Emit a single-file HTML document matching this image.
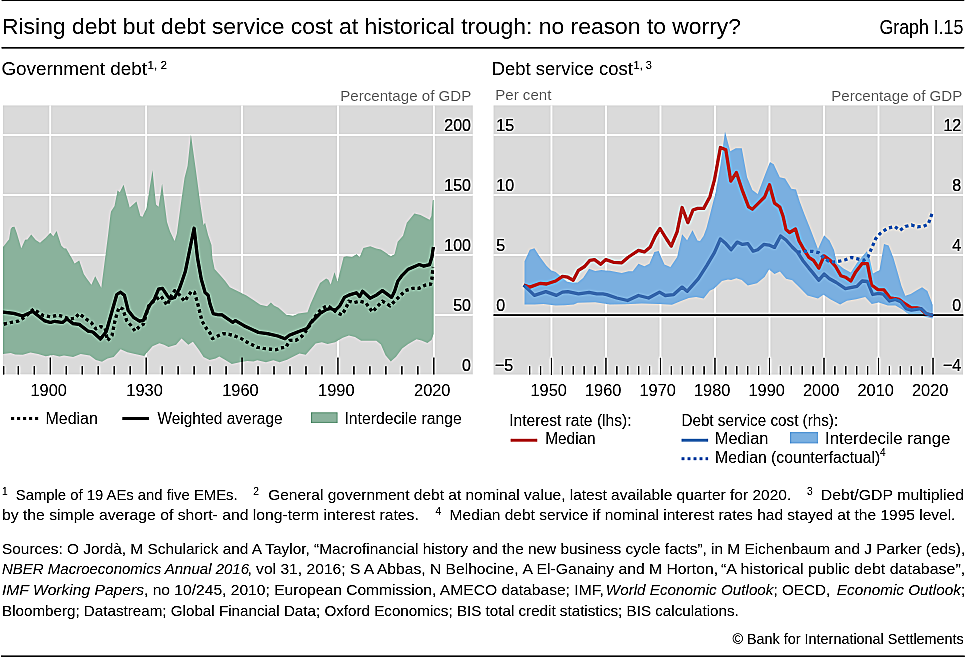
<!DOCTYPE html>
<html><head><meta charset="utf-8"><title>Graph I.15</title>
<style>html,body{margin:0;padding:0;background:#fff;}body{width:965px;height:657px;overflow:hidden;}svg{display:block;will-change:transform;}</style>
</head><body>
<svg width="965" height="657" viewBox="0 0 965 657" font-family="'Liberation Sans', sans-serif">
<rect width="965" height="657" fill="#fff"/>
<defs><filter id="sh" x="0" y="0" width="965" height="657" filterUnits="userSpaceOnUse" color-interpolation-filters="sRGB"><feGaussianBlur in="SourceGraphic" stdDeviation="1.0" result="b"/><feComposite in="SourceGraphic" in2="b" operator="arithmetic" k1="0" k2="2" k3="-1" k4="0"/></filter></defs>
<g filter="url(#sh)">
<rect width="965" height="657" fill="#fff"/>
<rect x="1.5" y="0" width="963" height="1.2" fill="#000"/>
<rect x="1.5" y="47" width="963" height="1.6" fill="#1a1a1a"/>
<rect x="1" y="655.4" width="964" height="1.6" fill="#1a1a1a"/>
<text x="2" y="34.2" font-size="22" textLength="739" lengthAdjust="spacingAndGlyphs" fill="#000">Rising debt but debt service cost at historical trough: no reason to worry?</text>
<text x="879.4" y="34.2" font-size="19.5" textLength="84" lengthAdjust="spacingAndGlyphs" fill="#000">Graph I.15</text>
<text x="1.4" y="75.2" font-size="18" textLength="145.6" lengthAdjust="spacingAndGlyphs" fill="#000">Government debt</text>
<text x="147.6" y="68.7" font-size="11" textLength="19.4" lengthAdjust="spacingAndGlyphs" fill="#000">1, 2</text>
<text x="491.8" y="75.2" font-size="18" textLength="141" lengthAdjust="spacingAndGlyphs" fill="#000">Debt service cost</text>
<text x="633.6" y="68.7" font-size="11" textLength="18.4" lengthAdjust="spacingAndGlyphs" fill="#000">1, 3</text>
<text x="340.2" y="100.5" font-size="15" textLength="131.2" lengthAdjust="spacingAndGlyphs" fill="#858585">Percentage of GDP</text>
<text x="495.2" y="100.4" font-size="15" textLength="56.2" lengthAdjust="spacingAndGlyphs" fill="#858585">Per cent</text>
<text x="831.2" y="100.5" font-size="15" textLength="131.2" lengthAdjust="spacingAndGlyphs" fill="#858585">Percentage of GDP</text>
<rect x="2.8" y="105.4" width="470" height="269" fill="#dadada"/>
<line x1="50.25" y1="105.4" x2="50.25" y2="374.4" stroke="#ffffff" stroke-width="1.7"/>
<line x1="146.15" y1="105.4" x2="146.15" y2="374.4" stroke="#ffffff" stroke-width="1.7"/>
<line x1="242.05" y1="105.4" x2="242.05" y2="374.4" stroke="#ffffff" stroke-width="1.7"/>
<line x1="337.95" y1="105.4" x2="337.95" y2="374.4" stroke="#ffffff" stroke-width="1.7"/>
<line x1="433.85" y1="105.4" x2="433.85" y2="374.4" stroke="#ffffff" stroke-width="1.7"/>
<line x1="2.8" y1="314.88" x2="472.8" y2="314.88" stroke="#ffffff" stroke-width="1.7"/>
<line x1="2.8" y1="254.92" x2="472.8" y2="254.92" stroke="#ffffff" stroke-width="1.7"/>
<line x1="2.8" y1="194.96" x2="472.8" y2="194.96" stroke="#ffffff" stroke-width="1.7"/>
<line x1="2.8" y1="134.99" x2="472.8" y2="134.99" stroke="#ffffff" stroke-width="1.7"/>
<polygon points="3,247 9.1,239.2 10.7,229.1 12.2,227 14.5,226.8 16.8,233.1 21.3,248.2 25.1,239.8 27.4,239.4 31.2,234.4 35.8,239.9 40,242.8 45.7,237.7 50.3,232.8 53.3,236.3 56.6,231.1 61.3,245.5 64,248.2 66.2,248.5 71.6,257.8 74.6,263.4 79.2,260.4 83.8,274.1 86.8,278.6 91.4,284.7 95.2,276.3 101.3,287.8 104.6,262 108.2,234 110.4,215 111,211.4 114.5,206 117.5,190.4 119.8,192.3 123.6,184.7 129.7,207.6 136.5,201.5 140.4,215.9 142.6,216.7 146.4,208.3 152.5,170.3 156,204.5 158.6,206.8 162.1,183.7 167,222 170,231.2 174.6,241.1 176.9,233.5 180.7,205 184.5,177.9 187.6,165.7 190.9,134.5 195.9,170.3 200.5,205 203.5,225.1 205.1,222.8 208.1,235 211.5,245 212.5,258.5 214.6,268.9 220.7,275.8 225.2,281.1 229.8,287.2 237.4,291 246.5,295.6 252.6,299.4 260.3,304.7 267.1,306.2 270.9,302.4 274,305.5 278.5,307.8 286.1,314.6 293,315.7 298.3,313.5 307.5,312.3 310.5,304 316.6,290.3 320,283 326.1,278.5 328.4,279.8 330.7,284.4 334.5,272.2 337.5,281.4 343.6,257 346.6,256.2 352,257 356.5,254 359.6,257 363.4,247.9 370.3,246.3 376.3,248.6 380.9,249.4 385.5,252.4 390.8,256.2 394.6,254 397.7,241.8 403,235.7 406.8,222.7 414.4,213.6 420.5,215.1 429.6,219.7 431.4,216 432.7,200.5 433.7,199.5 433.7,334 431.5,340 427.4,343 421.5,340.5 416.5,339.3 408.3,343.9 402.2,348.4 396.1,356.8 390.8,361.4 385.5,355.3 380.9,344.6 376.3,340.8 368.7,340.8 361.1,340.8 355,337 348.9,335.5 342.8,337.8 335.2,342.3 327.6,343.9 321.9,342.3 315.7,343.5 305.7,354.7 299.5,353.5 287.1,359.7 279.6,362.2 273.4,360.3 266,362.2 257.3,360.3 253.5,361.6 247.3,360.9 239.8,362.2 231.8,364 224.9,359.7 219.3,356.6 215.7,358.4 209.6,359.9 203.5,356.9 199,350 192.9,341.7 188.3,344.7 181.5,338.6 176.1,344.7 168.5,347 164,344.7 159.4,343.2 152.5,346.2 144.2,356.1 135,353.9 127.4,352.3 120.6,349.3 113.7,356.9 107.6,358.4 102,361.7 95.9,360.1 89.8,355.6 80.7,354.1 73.1,357.1 64,355.6 59.4,356.6 53.3,355.1 45.7,356.3 38.1,354.1 30.5,352.5 22.8,354.8 15.2,354.5 10.7,353 3,354.1" fill="#8ab29c"/>
<path d="M3.8,324.1 L10.7,322.5 L18.3,321 L25.1,316.8 L33.5,309.1 L42.6,315.2 L50.3,316.8 L57.9,315.2 L64,316.8 L69.3,319 L74.6,318.3 L79.2,313.7 L85.3,318.3 L91.4,322.8 L95.9,328.9 L100.5,326.6 L105.1,328.2 L107.5,340.5 L112,335.5 L115.2,319.6 L119,307.4 L122.8,308.9 L126.6,320.4 L131.2,325.7 L135,331 L139.6,326.4 L143.4,324.2 L148.7,305.9 L152.5,302.1 L160.9,296 L167,305.1 L171.6,295.2 L174.6,290.7 L179.2,294.5 L184.5,301.3 L187.6,296.8 L191.4,291.4 L194.4,292.2 L197.5,302.8 L202,321.1 L206.6,328.7 L210,333 L212.5,338.5 L217.5,336.1 L223,333.6 L228.7,334.2 L234.9,336.1 L241.1,338.5 L247.3,342.3 L257.3,347.3 L263.5,348.5 L269.7,349.1 L275.9,349.7 L280.9,347.9 L285.9,347.3 L289.6,340.4 L295.8,340.4 L301.4,336.7 L304.5,333 L310,325 L314,318 L318.2,312.4 L322.5,308.1 L327.6,305.8 L331,308 L336.8,312.6 L342.1,314.9 L346.6,306.5 L348.9,301.2 L353.5,302.7 L359.6,301.2 L365.7,302.7 L372.5,311.9 L377.9,305.8 L382.4,301.2 L390,305.8 L397.7,298.2 L405.3,290.6 L412.9,288.3 L419,288.3 L425.1,285.2 L430.4,284.5 L431.9,279.1 L432.4,273 L433,267" fill="none" stroke="#000" stroke-width="3.2" stroke-dasharray="3.2 3" stroke-linejoin="round"/>
<path d="M3,312.2 L13.7,313.4 L22.8,316 L32.7,311.4 L44.2,320.6 L50.3,322.5 L54.8,321.3 L62.4,322.5 L67,319 L73.1,323.6 L79.2,324.4 L88.3,331.2 L92.9,332 L100.5,339 L106.3,331.5 L111.4,313.5 L116.8,294.5 L120.6,292.2 L124.4,295.2 L128.2,310.5 L133.5,317.3 L139.6,321.1 L143.4,320.4 L147.2,310.5 L150.3,304.4 L154.1,299.8 L158.6,289.1 L162.4,288.4 L167,295.2 L170,299 L174.6,297.5 L179.2,289.1 L182.2,280.7 L185.3,271.6 L194.1,228.2 L197.5,257.9 L201.3,279.2 L205.1,292.5 L208.1,295.2 L210,304 L213.3,313.7 L217.6,314.6 L222,314.9 L232.6,322.3 L235.4,320.6 L244,325.7 L258.6,332.5 L267.5,333.6 L277.8,336 L285,338.7 L289.4,335.3 L298.9,331.5 L307,328.5 L310.5,323 L314.5,319 L320,313.5 L326.5,309.5 L330.7,308.5 L335.2,310.4 L339.8,305.8 L344.4,297.4 L348.9,295.1 L356.5,292.8 L359.6,296.6 L362.6,291.3 L370.3,298.2 L376.3,295.1 L382.4,290.6 L391.6,297.4 L394.6,291.3 L397.7,281.4 L402.2,275.3 L408.3,269.2 L419,264.6 L423.5,266.1 L429.6,264.6 L431.9,257 L433.4,247.1" fill="none" stroke="#000" stroke-width="3.2" stroke-linejoin="round"/>
<line x1="3.70" y1="366.2" x2="3.70" y2="374.4" stroke="#000" stroke-width="1.2"/>
<line x1="18.28" y1="366.2" x2="18.28" y2="374.4" stroke="#000" stroke-width="1.2"/>
<line x1="34.27" y1="366.2" x2="34.27" y2="374.4" stroke="#000" stroke-width="1.2"/>
<line x1="50.25" y1="357.6" x2="50.25" y2="374.4" stroke="#000" stroke-width="1.2"/>
<line x1="66.23" y1="366.2" x2="66.23" y2="374.4" stroke="#000" stroke-width="1.2"/>
<line x1="82.22" y1="366.2" x2="82.22" y2="374.4" stroke="#000" stroke-width="1.2"/>
<line x1="98.20" y1="366.2" x2="98.20" y2="374.4" stroke="#000" stroke-width="1.2"/>
<line x1="114.18" y1="366.2" x2="114.18" y2="374.4" stroke="#000" stroke-width="1.2"/>
<line x1="130.17" y1="366.2" x2="130.17" y2="374.4" stroke="#000" stroke-width="1.2"/>
<line x1="146.15" y1="357.6" x2="146.15" y2="374.4" stroke="#000" stroke-width="1.2"/>
<line x1="162.13" y1="366.2" x2="162.13" y2="374.4" stroke="#000" stroke-width="1.2"/>
<line x1="178.12" y1="366.2" x2="178.12" y2="374.4" stroke="#000" stroke-width="1.2"/>
<line x1="194.10" y1="366.2" x2="194.10" y2="374.4" stroke="#000" stroke-width="1.2"/>
<line x1="210.08" y1="366.2" x2="210.08" y2="374.4" stroke="#000" stroke-width="1.2"/>
<line x1="226.07" y1="366.2" x2="226.07" y2="374.4" stroke="#000" stroke-width="1.2"/>
<line x1="242.05" y1="357.6" x2="242.05" y2="374.4" stroke="#000" stroke-width="1.2"/>
<line x1="258.04" y1="366.2" x2="258.04" y2="374.4" stroke="#000" stroke-width="1.2"/>
<line x1="274.02" y1="366.2" x2="274.02" y2="374.4" stroke="#000" stroke-width="1.2"/>
<line x1="290.00" y1="366.2" x2="290.00" y2="374.4" stroke="#000" stroke-width="1.2"/>
<line x1="305.99" y1="366.2" x2="305.99" y2="374.4" stroke="#000" stroke-width="1.2"/>
<line x1="321.97" y1="366.2" x2="321.97" y2="374.4" stroke="#000" stroke-width="1.2"/>
<line x1="337.95" y1="357.6" x2="337.95" y2="374.4" stroke="#000" stroke-width="1.2"/>
<line x1="353.94" y1="366.2" x2="353.94" y2="374.4" stroke="#000" stroke-width="1.2"/>
<line x1="369.92" y1="366.2" x2="369.92" y2="374.4" stroke="#000" stroke-width="1.2"/>
<line x1="385.90" y1="366.2" x2="385.90" y2="374.4" stroke="#000" stroke-width="1.2"/>
<line x1="401.89" y1="366.2" x2="401.89" y2="374.4" stroke="#000" stroke-width="1.2"/>
<line x1="417.87" y1="366.2" x2="417.87" y2="374.4" stroke="#000" stroke-width="1.2"/>
<line x1="433.85" y1="357.6" x2="433.85" y2="374.4" stroke="#000" stroke-width="1.2"/>
<text x="471" y="370.85" font-size="16.8" textLength="8.898" lengthAdjust="spacingAndGlyphs" text-anchor="end" fill="#000" stroke="#000" stroke-width="0.15">0</text>
<text x="471" y="310.885" font-size="16.8" textLength="17.796" lengthAdjust="spacingAndGlyphs" text-anchor="end" fill="#000" stroke="#000" stroke-width="0.15">50</text>
<text x="471" y="250.92" font-size="16.8" textLength="26.694" lengthAdjust="spacingAndGlyphs" text-anchor="end" fill="#000" stroke="#000" stroke-width="0.15">100</text>
<text x="471" y="190.955" font-size="16.8" textLength="26.694" lengthAdjust="spacingAndGlyphs" text-anchor="end" fill="#000" stroke="#000" stroke-width="0.15">150</text>
<text x="471" y="130.99" font-size="16.8" textLength="26.694" lengthAdjust="spacingAndGlyphs" text-anchor="end" fill="#000" stroke="#000" stroke-width="0.15">200</text>
<text x="48.65" y="395.5" font-size="16.4" text-anchor="middle" fill="#000">1900</text>
<text x="144.551" y="395.5" font-size="16.4" text-anchor="middle" fill="#000">1930</text>
<text x="240.452" y="395.5" font-size="16.4" text-anchor="middle" fill="#000">1960</text>
<text x="336.353" y="395.5" font-size="16.4" text-anchor="middle" fill="#000">1990</text>
<text x="432.254" y="395.5" font-size="16.4" text-anchor="middle" fill="#000">2020</text>
<line x1="11.2" y1="418.6" x2="38.6" y2="418.6" stroke="#000" stroke-width="3" stroke-dasharray="3 3"/>
<text x="45.5" y="423.5" font-size="16" textLength="52.4" lengthAdjust="spacingAndGlyphs" fill="#000">Median</text>
<line x1="122.4" y1="418.6" x2="148.8" y2="418.6" stroke="#000" stroke-width="3"/>
<text x="157.4" y="423.5" font-size="16" textLength="125.2" lengthAdjust="spacingAndGlyphs" fill="#000">Weighted average</text>
<rect x="311.5" y="412.8" width="25.6" height="9.8" fill="#8ab29c" stroke="#76a38a" stroke-width="1"/>
<text x="344.4" y="423.5" font-size="16" textLength="117.4" lengthAdjust="spacingAndGlyphs" fill="#000">Interdecile range</text>
<rect x="493.5" y="105.4" width="469.9" height="269.2" fill="#dadada"/>
<line x1="551.45" y1="105.4" x2="551.45" y2="374.6" stroke="#ffffff" stroke-width="1.7"/>
<line x1="605.96" y1="105.4" x2="605.96" y2="374.6" stroke="#ffffff" stroke-width="1.7"/>
<line x1="660.47" y1="105.4" x2="660.47" y2="374.6" stroke="#ffffff" stroke-width="1.7"/>
<line x1="714.98" y1="105.4" x2="714.98" y2="374.6" stroke="#ffffff" stroke-width="1.7"/>
<line x1="769.49" y1="105.4" x2="769.49" y2="374.6" stroke="#ffffff" stroke-width="1.7"/>
<line x1="824.00" y1="105.4" x2="824.00" y2="374.6" stroke="#ffffff" stroke-width="1.7"/>
<line x1="878.51" y1="105.4" x2="878.51" y2="374.6" stroke="#ffffff" stroke-width="1.7"/>
<line x1="933.02" y1="105.4" x2="933.02" y2="374.6" stroke="#ffffff" stroke-width="1.7"/>
<line x1="493.5" y1="255.10" x2="963.4" y2="255.10" stroke="#ffffff" stroke-width="1.7"/>
<line x1="493.5" y1="195.05" x2="963.4" y2="195.05" stroke="#ffffff" stroke-width="1.7"/>
<line x1="493.5" y1="135.00" x2="963.4" y2="135.00" stroke="#ffffff" stroke-width="1.7"/>
<polygon points="524.5,261.2 529.8,249.8 534.4,248.3 540.4,257.4 546.5,265.8 551.1,270.3 555.7,271.9 561.8,277.2 567.1,281.8 572.4,282.5 577.7,282.5 583.1,277.9 589.1,268.8 595.2,271.1 601.3,269.9 606,270.5 610,270.7 621.8,272.9 628.5,271.2 632.7,271.2 638.5,263.7 644.4,266.2 649.4,263.7 654.4,251.9 658.6,251.1 664.5,264.5 670.4,267 677.1,257 682.1,234.3 687.1,240.2 692.5,230.2 697.5,240.5 700,241 703.5,236 706.5,228 709.8,215.2 715.9,190.9 720.4,165 725,131.5 730.3,151.3 735.7,148.3 741.8,148.3 747.1,177.2 752.4,190.1 757.7,193.9 764.6,175.7 769.9,162 773.7,164.2 779.8,177.2 785.1,178.5 791.4,188.8 796,189.6 799.8,201.8 804.4,213.9 810.4,229.1 818,249 824.1,235.2 829.5,240.5 834,250 837.1,263.5 843.9,268.8 850.8,272.6 857.6,262 866.8,251.3 869.8,258.9 873,273.5 879.5,270 884,244 888.6,245.6 893.2,257 897.7,272.5 901.5,286 905.3,295.7 910.7,294.1 916.8,290.3 922.1,287.3 927.4,291.1 932.7,304.8 932.7,318.5 932.7,318.5 925.9,317 918.3,314.7 909.1,314.7 902.3,309.4 895.4,305.6 887.8,305.6 878.7,302.5 871.8,304 865.2,297 856.1,299.3 847,300.8 840.1,304.6 830.2,299.3 823.4,294.7 818,298.5 807.4,295.4 799.8,287.8 792.2,280.2 786.1,278.7 779.9,271.5 774.5,274 769.1,269.5 764.6,277.1 757,283.2 747.8,285.4 741.8,280.1 736.4,278.3 731.1,280.1 728,279.4 722,280.9 714.4,288.5 709.8,290.8 703.7,298.4 696.1,296.9 688.8,298 680.4,301.3 672,304.7 658.6,303.9 641.9,303.5 625.1,304.2 610,304.6 595.2,302.3 586.1,302.6 577.7,302.8 573.9,304.6 564.8,305.3 555.7,305.6 543.5,304.1 534.4,304.6 524.5,304.6" fill="#7aafe0"/>
<line x1="493.5" y1="315.15" x2="963.4" y2="315.15" stroke="#1a1a1a" stroke-width="1.8"/>
<path d="M523.7,285.1 L529.8,287.1 L540.4,283.3 L546.5,284 L555.7,281 L562.5,276.4 L567.8,277.2 L573.2,280.2 L578.5,270.3 L584.6,266.5 L589.9,260.4 L594.5,259.7 L600.6,264.2 L605.9,259.6 L613.4,262.3 L621.8,262.8 L628.5,257 L638.5,250.3 L644.4,251.9 L650.3,246.9 L655.3,236 L660,228.5 L666.2,238.5 L671.2,246.1 L677.1,231.8 L682.1,207.5 L687.9,222.6 L693,210 L697.6,208.4 L703.7,208.4 L709.8,197 L714.4,180.2 L720.4,147.5 L725.8,149.8 L730.8,181 L736.4,172.6 L742.5,190.9 L748.6,206.9 L752.4,209.1 L758.5,203.1 L764.6,197 L769.5,184.8 L774.5,203.1 L779.8,207 L783,216 L786,229.5 L789.5,232.5 L795.5,229 L799,240.7 L803.6,249 L808.9,257.4 L813.5,260.4 L818.8,268.1 L824.1,255.9 L830.2,260.4 L835.6,266.5 L840.9,275.7 L845.4,277.2 L850.8,281 L855.3,272.6 L862.2,263.5 L867.4,263.6 L871.5,285 L877.9,289.6 L884,289.9 L890.1,297.9 L899.2,299.5 L905.3,304 L911.4,307.8 L916.8,307.8 L920.6,308.6 L925.9,313.9 L932.7,315.4" fill="none" stroke="#b42520" stroke-width="3.3" stroke-linejoin="round"/>
<path d="M523.7,285.1 L529,290.1 L534.4,295.4 L545.8,291.6 L556.4,295.4 L562.5,292.1 L567.8,291.6 L578.5,293.9 L589.1,292.4 L596.8,293.9 L602.8,293.9 L606.7,294.6 L616.8,298 L627.6,300.5 L638.5,295.5 L648.6,298 L659.5,292.1 L665.3,295.5 L673.7,294.6 L682.1,287.1 L687.1,291.3 L693.8,283.8 L698.4,278.6 L706.7,265.7 L714.4,252.7 L720.4,239 L725.8,243.6 L731.1,249.7 L737.2,242.1 L742.5,244.4 L747.8,243.6 L753.2,251.2 L757.7,249.7 L763.8,244.4 L769.1,245.1 L774.5,247.4 L780.6,236 L786,240 L792.2,247 L797.5,252.1 L802.8,260.4 L808.9,268.1 L812.7,272.6 L818.8,280.2 L824.1,274.1 L829.5,278.7 L836.3,282.5 L845.4,288.6 L853.1,287.1 L856.9,286.3 L862.2,281 L867.4,281.5 L872.7,294.5 L878.7,293.4 L883.3,294.1 L889.4,301 L895.4,299.5 L900.8,301.8 L906.1,308.6 L911.4,310.1 L921.3,308.6 L926.6,313.9 L933.5,315.4" fill="none" stroke="#3a6cb0" stroke-width="3.3" stroke-linejoin="round"/>
<path d="M797.5,252.1 L805.1,251.3 L812.7,251.3 L818.8,252.8 L824.1,258.2 L828.7,261.2 L833.3,262 L839.4,261.2 L845.4,259.7 L851.5,257.4 L857.6,258.9 L863.7,260.4 L868,257 L871.1,249.4 L875.7,238.7 L880.2,233.4 L887.8,228.1 L894.7,226.5 L900,230.3 L905.3,226.5 L911.4,225 L917.5,226.8 L923.6,226.2 L928.2,224.2 L930.4,218.2 L932.7,212.1" fill="none" stroke="#2f64b3" stroke-width="3.2" stroke-dasharray="3.3 3"/>
<line x1="529.65" y1="366.2" x2="529.65" y2="374.6" stroke="#000" stroke-width="1.2"/>
<line x1="540.55" y1="366.2" x2="540.55" y2="374.6" stroke="#000" stroke-width="1.2"/>
<line x1="551.45" y1="357.8" x2="551.45" y2="374.6" stroke="#000" stroke-width="1.2"/>
<line x1="562.35" y1="366.2" x2="562.35" y2="374.6" stroke="#000" stroke-width="1.2"/>
<line x1="573.25" y1="366.2" x2="573.25" y2="374.6" stroke="#000" stroke-width="1.2"/>
<line x1="584.16" y1="366.2" x2="584.16" y2="374.6" stroke="#000" stroke-width="1.2"/>
<line x1="595.06" y1="366.2" x2="595.06" y2="374.6" stroke="#000" stroke-width="1.2"/>
<line x1="605.96" y1="357.8" x2="605.96" y2="374.6" stroke="#000" stroke-width="1.2"/>
<line x1="616.86" y1="366.2" x2="616.86" y2="374.6" stroke="#000" stroke-width="1.2"/>
<line x1="627.76" y1="366.2" x2="627.76" y2="374.6" stroke="#000" stroke-width="1.2"/>
<line x1="638.67" y1="366.2" x2="638.67" y2="374.6" stroke="#000" stroke-width="1.2"/>
<line x1="649.57" y1="366.2" x2="649.57" y2="374.6" stroke="#000" stroke-width="1.2"/>
<line x1="660.47" y1="357.8" x2="660.47" y2="374.6" stroke="#000" stroke-width="1.2"/>
<line x1="671.37" y1="366.2" x2="671.37" y2="374.6" stroke="#000" stroke-width="1.2"/>
<line x1="682.27" y1="366.2" x2="682.27" y2="374.6" stroke="#000" stroke-width="1.2"/>
<line x1="693.18" y1="366.2" x2="693.18" y2="374.6" stroke="#000" stroke-width="1.2"/>
<line x1="704.08" y1="366.2" x2="704.08" y2="374.6" stroke="#000" stroke-width="1.2"/>
<line x1="714.98" y1="357.8" x2="714.98" y2="374.6" stroke="#000" stroke-width="1.2"/>
<line x1="725.88" y1="366.2" x2="725.88" y2="374.6" stroke="#000" stroke-width="1.2"/>
<line x1="736.78" y1="366.2" x2="736.78" y2="374.6" stroke="#000" stroke-width="1.2"/>
<line x1="747.69" y1="366.2" x2="747.69" y2="374.6" stroke="#000" stroke-width="1.2"/>
<line x1="758.59" y1="366.2" x2="758.59" y2="374.6" stroke="#000" stroke-width="1.2"/>
<line x1="769.49" y1="357.8" x2="769.49" y2="374.6" stroke="#000" stroke-width="1.2"/>
<line x1="780.39" y1="366.2" x2="780.39" y2="374.6" stroke="#000" stroke-width="1.2"/>
<line x1="791.29" y1="366.2" x2="791.29" y2="374.6" stroke="#000" stroke-width="1.2"/>
<line x1="802.20" y1="366.2" x2="802.20" y2="374.6" stroke="#000" stroke-width="1.2"/>
<line x1="813.10" y1="366.2" x2="813.10" y2="374.6" stroke="#000" stroke-width="1.2"/>
<line x1="824.00" y1="357.8" x2="824.00" y2="374.6" stroke="#000" stroke-width="1.2"/>
<line x1="834.90" y1="366.2" x2="834.90" y2="374.6" stroke="#000" stroke-width="1.2"/>
<line x1="845.80" y1="366.2" x2="845.80" y2="374.6" stroke="#000" stroke-width="1.2"/>
<line x1="856.71" y1="366.2" x2="856.71" y2="374.6" stroke="#000" stroke-width="1.2"/>
<line x1="867.61" y1="366.2" x2="867.61" y2="374.6" stroke="#000" stroke-width="1.2"/>
<line x1="878.51" y1="357.8" x2="878.51" y2="374.6" stroke="#000" stroke-width="1.2"/>
<line x1="889.41" y1="366.2" x2="889.41" y2="374.6" stroke="#000" stroke-width="1.2"/>
<line x1="900.31" y1="366.2" x2="900.31" y2="374.6" stroke="#000" stroke-width="1.2"/>
<line x1="911.22" y1="366.2" x2="911.22" y2="374.6" stroke="#000" stroke-width="1.2"/>
<line x1="922.12" y1="366.2" x2="922.12" y2="374.6" stroke="#000" stroke-width="1.2"/>
<line x1="933.02" y1="357.8" x2="933.02" y2="374.6" stroke="#000" stroke-width="1.2"/>
<text x="495" y="371.2" font-size="16.8" textLength="18.242" lengthAdjust="spacingAndGlyphs" fill="#000" stroke="#000" stroke-width="0.15">−5</text>
<text x="496.3" y="311.15" font-size="16.8" textLength="8.898" lengthAdjust="spacingAndGlyphs" fill="#000" stroke="#000" stroke-width="0.15">0</text>
<text x="496.3" y="251.1" font-size="16.8" textLength="8.898" lengthAdjust="spacingAndGlyphs" fill="#000" stroke="#000" stroke-width="0.15">5</text>
<text x="496.3" y="191.05" font-size="16.8" textLength="17.796" lengthAdjust="spacingAndGlyphs" fill="#000" stroke="#000" stroke-width="0.15">10</text>
<text x="496.3" y="131" font-size="16.8" textLength="17.796" lengthAdjust="spacingAndGlyphs" fill="#000" stroke="#000" stroke-width="0.15">15</text>
<text x="961.2" y="371.2" font-size="16.8" textLength="18.242" lengthAdjust="spacingAndGlyphs" text-anchor="end" fill="#000" stroke="#000" stroke-width="0.15">−4</text>
<text x="961.2" y="311.15" font-size="16.8" textLength="8.898" lengthAdjust="spacingAndGlyphs" text-anchor="end" fill="#000" stroke="#000" stroke-width="0.15">0</text>
<text x="961.2" y="251.1" font-size="16.8" textLength="8.898" lengthAdjust="spacingAndGlyphs" text-anchor="end" fill="#000" stroke="#000" stroke-width="0.15">4</text>
<text x="961.2" y="191.05" font-size="16.8" textLength="8.898" lengthAdjust="spacingAndGlyphs" text-anchor="end" fill="#000" stroke="#000" stroke-width="0.15">8</text>
<text x="961.2" y="131" font-size="16.8" textLength="17.796" lengthAdjust="spacingAndGlyphs" text-anchor="end" fill="#000" stroke="#000" stroke-width="0.15">12</text>
<text x="548.65" y="395.6" font-size="16.4" text-anchor="middle" fill="#000">1950</text>
<text x="603.16" y="395.6" font-size="16.4" text-anchor="middle" fill="#000">1960</text>
<text x="657.67" y="395.6" font-size="16.4" text-anchor="middle" fill="#000">1970</text>
<text x="712.18" y="395.6" font-size="16.4" text-anchor="middle" fill="#000">1980</text>
<text x="766.69" y="395.6" font-size="16.4" text-anchor="middle" fill="#000">1990</text>
<text x="821.2" y="395.6" font-size="16.4" text-anchor="middle" fill="#000">2000</text>
<text x="875.71" y="395.6" font-size="16.4" text-anchor="middle" fill="#000">2010</text>
<text x="930.22" y="395.6" font-size="16.4" text-anchor="middle" fill="#000">2020</text>
<text x="509.2" y="425.5" font-size="16" textLength="122.4" lengthAdjust="spacingAndGlyphs" fill="#000">Interest rate (lhs):</text>
<line x1="510.6" y1="440.2" x2="537.3" y2="440.2" stroke="#b42520" stroke-width="3"/>
<text x="545.2" y="444.2" font-size="16" textLength="50.5" lengthAdjust="spacingAndGlyphs" fill="#000">Median</text>
<text x="681.4" y="426" font-size="16" textLength="156.8" lengthAdjust="spacingAndGlyphs" fill="#000">Debt service cost (rhs):</text>
<line x1="681.5" y1="440.2" x2="708.2" y2="440.2" stroke="#3a6cb0" stroke-width="3"/>
<text x="714.8" y="444.3" font-size="16" textLength="53.6" lengthAdjust="spacingAndGlyphs" fill="#000">Median</text>
<rect x="790.5" y="432.6" width="27.2" height="10.4" fill="#7aafe0" stroke="#6aa3da" stroke-width="0.9"/>
<text x="825" y="444.3" font-size="16.5" textLength="125.4" lengthAdjust="spacingAndGlyphs" fill="#000">Interdecile range</text>
<line x1="681.5" y1="458.8" x2="708.2" y2="458.8" stroke="#2f64b3" stroke-width="3" stroke-dasharray="3 3"/>
<text x="715.1" y="462.9" font-size="16" textLength="165.2" lengthAdjust="spacingAndGlyphs" fill="#000">Median (counterfactual)</text>
<text x="879.9" y="455.6" font-size="10" fill="#000">4</text>
<text x="2" y="494.6" font-size="10.2" fill="#000">1</text>
<text x="15.8" y="499.6" font-size="15" textLength="221.8" lengthAdjust="spacingAndGlyphs" fill="#000">Sample of 19 AEs and five EMEs.</text>
<text x="253.2" y="494.6" font-size="10.2" fill="#000">2</text>
<text x="268.2" y="499.6" font-size="15" textLength="523" lengthAdjust="spacingAndGlyphs" fill="#000">General government debt at nominal value, latest available quarter for 2020.</text>
<text x="807" y="494.6" font-size="10.2" fill="#000">3</text>
<text x="820.8" y="499.6" font-size="15" textLength="143.4" lengthAdjust="spacingAndGlyphs" fill="#000">Debt/GDP multiplied</text>
<text x="2" y="519.9" font-size="15" textLength="416.8" lengthAdjust="spacingAndGlyphs" fill="#000">by the simple average of short- and long-term interest rates.</text>
<text x="435.4" y="514.9" font-size="10.2" fill="#000">4</text>
<text x="449.6" y="519.9" font-size="15" textLength="505.8" lengthAdjust="spacingAndGlyphs" fill="#000">Median debt service if nominal interest rates had stayed at the 1995 level.</text>
<text x="2" y="553.8" font-size="15" textLength="963.2" lengthAdjust="spacingAndGlyphs" fill="#000">Sources: O Jordà, M Schularick and A Taylor, “Macrofinancial history and the new business cycle facts”, in M Eichenbaum and J Parker (eds),</text>
<text x="2" y="574.3" font-size="15" textLength="247" lengthAdjust="spacingAndGlyphs" fill="#000"><tspan font-style="italic">NBER Macroeconomics Annual 2016</tspan></text>
<text x="247.4" y="574.3" font-size="15" textLength="271.2" lengthAdjust="spacingAndGlyphs" fill="#000">, vol 31, 2016; S A Abbas, N Belhocine,</text>
<text x="522.6" y="574.3" font-size="15" textLength="195.4" lengthAdjust="spacingAndGlyphs" fill="#000">A El-Ganainy and M Horton,</text>
<text x="721" y="574.3" font-size="15" textLength="244.2" lengthAdjust="spacingAndGlyphs" fill="#000">“A historical public debt database”,</text>
<text x="2" y="595.4" font-size="15" textLength="601.8" lengthAdjust="spacingAndGlyphs" fill="#000"><tspan font-style="italic">IMF Working Papers</tspan>, no 10/245, 2010; European Commission, AMECO database; IMF,</text>
<text x="605.8" y="595.4" font-size="15" textLength="224.4" lengthAdjust="spacingAndGlyphs" fill="#000"><tspan font-style="italic">World Economic Outlook</tspan>; OECD,</text>
<text x="836.8" y="595.4" font-size="15" textLength="128.4" lengthAdjust="spacingAndGlyphs" fill="#000"><tspan font-style="italic">Economic Outlook</tspan>;</text>
<text x="2" y="616.3" font-size="15" textLength="736.8" lengthAdjust="spacingAndGlyphs" fill="#000">Bloomberg; Datastream; Global Financial Data; Oxford Economics; BIS total credit statistics; BIS calculations.</text>
<text x="732.4" y="644.2" font-size="15" textLength="231.4" lengthAdjust="spacingAndGlyphs" fill="#000">© Bank for International Settlements</text>
</g>
</svg>
</body></html>
